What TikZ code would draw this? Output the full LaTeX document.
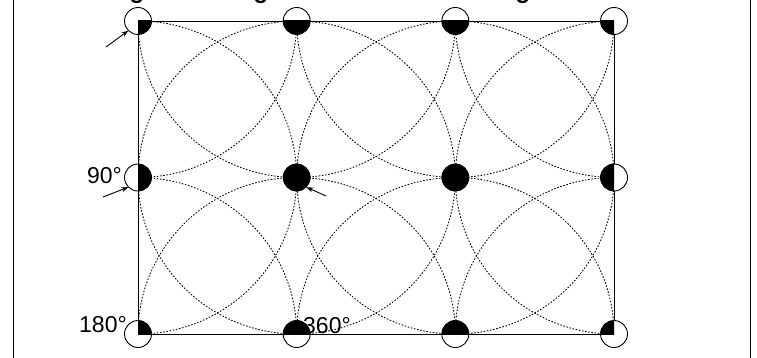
\documentclass[tikz,border=0pt]{standalone}
\usepackage{fontspec}
\setmainfont{Liberation Sans}
\usetikzlibrary{arrows.meta}
\begin{document}
\begin{tikzpicture}[x=1pt,y=-1pt,
  arcline/.style={dash pattern=on 1.6pt off 1.6pt, line width=0.85pt},
  frameline/.style={line width=0.9pt},
  dotnode/.style={circle, fill=white, minimum size=27pt, inner sep=0pt},
  lbl/.style={font=\fontsize{23}{28}\selectfont, inner sep=0pt},
  ptr/.style={-{Stealth[length=7pt,width=5pt]}, line width=0.9pt}]
\useasboundingbox (0,0) rectangle (757,358);
% outer frame
\draw[line width=1pt] (13,-5) -- (13,363);
\draw[line width=1pt] (750,-5) -- (750,363);
% cut-off title
\begin{scope}
\clip (0,0) rectangle (757,358);
\node[anchor=base, inner sep=0pt, font=\bfseries\fontsize{24}{28}\selectfont] (t1) at (137,-1.5) {g};
\node[anchor=base, inner sep=0pt, font=\bfseries\fontsize{24}{28}\selectfont] (t2) at (261,-1.5) {g};
\node[anchor=base, inner sep=0pt, font=\bfseries\fontsize{24}{28}\selectfont] (t3) at (523,-1.5) {g};
\end{scope}
% grid points
\foreach \x [count=\i] in {138,296.67,455.33,614} {
  \foreach \y [count=\j] in {21,177.5,334} {
    \coordinate (p\i\j) at (\x,\y);
  }
}
% dotted arcs
\begin{scope}
\clip (p11) rectangle (p43);
\foreach \i in {1,...,4} {
  \foreach \j in {1,2,3} {
    \draw[arcline] (p\i\j) ellipse [x radius=158.67pt, y radius=156.5pt];
  }
}
\end{scope}
% rectangle
\draw[frameline] (p11) rectangle (p43);
% nodes
\foreach \i in {1,...,4} {
  \foreach \j in {1,2,3} {
    \node[dotnode] (n\i\j) at (p\i\j) {};
  }
}
\begin{scope}
\clip (p11) rectangle (p43);
\foreach \i in {1,...,4} {
  \foreach \j in {1,2,3} {
    \fill[black] (p\i\j) circle (13.5pt);
  }
}
\end{scope}
\foreach \i in {1,...,4} {
  \foreach \j in {1,2,3} {
    \draw[line width=0.9pt] (p\i\j) circle (13.5pt);
  }
}
% labels
\node[lbl, anchor=base east] (l90) at (122,183) {90°};
\node[lbl, anchor=base west] (l180) at (79,332) {180°};
\node[lbl, anchor=base west] (l360) at (303,333) {360°};
% arrows
\coordinate (a1) at (106,47);
\coordinate (a2) at (103,197);
\coordinate (a3) at (326,196);
\draw[ptr] (a1) -- (n11.south west);
\draw[ptr] (a2) -- (n12.south west);
\draw[ptr] (a3) -- (n22.south east);
\end{tikzpicture}
\end{document}
